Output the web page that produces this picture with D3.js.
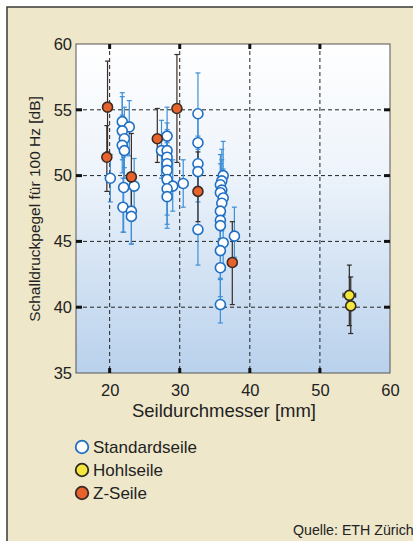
<!DOCTYPE html>
<html>
<head>
<meta charset="utf-8" />
<script src="https://cdn.jsdelivr.net/npm/d3@7"></script>
<style>
  body { margin: 0; background: #fff; }
  svg { display: block; font-family: "Liberation Sans", Arial, sans-serif; }
</style>
</head>
<body>
<script>
    // diameter d [mm], level L [dB], error range lo..hi [dB], dx = +/- diameter error
    var standardSeile = [
        {d: 20.1, L: 49.8, lo: 48.0, hi: 51.6, dx: 0.6},
        {d: 21.8, L: 54.1, lo: 51.8, hi: 56.3, dx: 0.6},
        {d: 22.8, L: 53.7, lo: 51.5, hi: 55.7, dx: 0.6},
        {d: 21.8, L: 53.4, lo: 51.2, hi: 56.0, dx: 0.6},
        {d: 22.1, L: 52.8, lo: 50.6, hi: 55.2, dx: 0.6},
        {d: 21.8, L: 52.3, lo: 50.2, hi: 54.6, dx: 0.6},
        {d: 22.1, L: 51.9, lo: 49.8, hi: 54.2, dx: 0.6},
        {d: 22.0, L: 49.1, lo: 45.7, hi: 51.4, dx: 0.6},
        {d: 23.5, L: 49.2, lo: 47.2, hi: 51.3, dx: 0.6},
        {d: 21.9, L: 47.6, lo: 45.7, hi: 49.8, dx: 0.6},
        {d: 23.1, L: 47.3, lo: 44.8, hi: 49.5, dx: 0.6},
        {d: 23.1, L: 46.9, lo: 44.8, hi: 49.0, dx: 0.6},
        {d: 28.2, L: 53.0, lo: 50.8, hi: 55.2, dx: 0.6},
        {d: 27.4, L: 51.9, lo: 49.8, hi: 54.2, dx: 0.6},
        {d: 28.2, L: 51.9, lo: 49.8, hi: 54.0, dx: 0.6},
        {d: 28.2, L: 51.4, lo: 49.3, hi: 53.5, dx: 0.6},
        {d: 28.2, L: 50.9, lo: 48.5, hi: 53.0, dx: 0.6},
        {d: 28.2, L: 50.4, lo: 48.2, hi: 52.5, dx: 0.6},
        {d: 28.2, L: 49.7, lo: 47.0, hi: 52.0, dx: 0.6},
        {d: 29.0, L: 49.2, lo: 47.3, hi: 51.2, dx: 0.6},
        {d: 30.5, L: 49.4, lo: 47.6, hi: 51.2, dx: 0.6},
        {d: 28.2, L: 49.0, lo: 46.3, hi: 51.5, dx: 0.6},
        {d: 28.2, L: 48.4, lo: 46.0, hi: 50.5, dx: 0.6},
        {d: 32.6, L: 54.7, lo: 52.0, hi: 57.8, dx: 0.6},
        {d: 32.6, L: 52.5, lo: 50.5, hi: 54.7, dx: 0.6},
        {d: 32.6, L: 50.9, lo: 48.8, hi: 53.0, dx: 0.6},
        {d: 32.6, L: 50.3, lo: 48.0, hi: 52.5, dx: 0.6},
        {d: 32.6, L: 45.9, lo: 43.2, hi: 48.5, dx: 0.6},
        {d: 36.2, L: 50.0, lo: 48.0, hi: 52.6, dx: 0.6},
        {d: 36.0, L: 49.6, lo: 47.5, hi: 52.0, dx: 0.6},
        {d: 35.8, L: 49.3, lo: 47.2, hi: 51.6, dx: 0.6},
        {d: 36.0, L: 48.9, lo: 46.8, hi: 51.2, dx: 0.6},
        {d: 35.8, L: 48.7, lo: 46.5, hi: 50.9, dx: 0.6},
        {d: 36.2, L: 48.3, lo: 46.2, hi: 50.5, dx: 0.6},
        {d: 36.0, L: 47.9, lo: 45.8, hi: 50.0, dx: 0.6},
        {d: 35.8, L: 47.3, lo: 45.2, hi: 49.5, dx: 0.6},
        {d: 35.8, L: 46.6, lo: 44.5, hi: 48.8, dx: 0.6},
        {d: 35.8, L: 46.2, lo: 44.0, hi: 48.4, dx: 0.6},
        {d: 37.8, L: 45.4, lo: 43.8, hi: 47.6, dx: 0.6},
        {d: 36.2, L: 44.9, lo: 42.8, hi: 47.0, dx: 0.6},
        {d: 35.8, L: 44.3, lo: 42.2, hi: 46.5, dx: 0.6},
        {d: 35.8, L: 43.0, lo: 40.8, hi: 45.2, dx: 0.6},
        {d: 35.8, L: 40.2, lo: 38.8, hi: 42.1, dx: 0.6}
    ];
    var hohlSeile = [
        {d: 54.2, L: 40.9, lo: 38.6, hi: 43.2, dx: 0.9},
        {d: 54.4, L: 40.1, lo: 38.0, hi: 42.3, dx: 0.6}
    ];
    var zSeile = [
        {d: 19.7, L: 55.2, lo: 51.8, hi: 58.7, dx: 0.6},
        {d: 19.6, L: 51.4, lo: 48.8, hi: 53.8, dx: 0.6},
        {d: 23.1, L: 49.9, lo: 46.6, hi: 53.2, dx: 0.6},
        {d: 26.8, L: 52.8, lo: 51.0, hi: 55.1, dx: 0.6},
        {d: 29.6, L: 55.1, lo: 51.0, hi: 59.2, dx: 0.6},
        {d: 32.6, L: 48.8, lo: 46.5, hi: 51.8, dx: 0.6},
        {d: 37.5, L: 43.4, lo: 40.2, hi: 46.5, dx: 0.6}
    ];
    var xTicks = [20, 30, 40, 50, 60];
    var yTicks = [35, 40, 45, 50, 55, 60];
    var legendNames = ["Standardseile", "Hohlseile", "Z-Seile"];

    var W = 413, H = 541;
    var plot = {left: 76, right: 390, top: 44, bottom: 373};

    var svg = d3.select("body").append("svg")
        .attr("width", W).attr("height", H);

    // page background / frame
    svg.append("rect").attr("x", 7).attr("y", 7).attr("width", W).attr("height", H)
        .attr("fill", "#eee7ca").attr("stroke", "#3b3a35").attr("stroke-width", 1.5);

    var defs = svg.append("defs");
    var grad = defs.append("linearGradient").attr("id", "bg")
        .attr("x1", 0).attr("y1", 0).attr("x2", 0).attr("y2", 1);
    grad.append("stop").attr("offset", "0%").attr("stop-color", "#ffffff");
    grad.append("stop").attr("offset", "38%").attr("stop-color", "#eef4fb");
    grad.append("stop").attr("offset", "100%").attr("stop-color", "#b9d1ec");

    var x = d3.scaleLinear().domain([15.2, 60]).range([plot.left, plot.right]);
    var y = d3.scaleLinear().domain([35, 60]).range([plot.bottom, plot.top]);

    svg.append("rect")
        .attr("x", plot.left).attr("y", plot.top)
        .attr("width", plot.right - plot.left).attr("height", plot.bottom - plot.top)
        .attr("fill", "url(#bg)");

    // dashed grid
    var grid = svg.append("g").attr("stroke", "#222").attr("stroke-dasharray", "4,3").attr("stroke-width", 1);
    grid.selectAll(".gx").data(xTicks.filter(function(t) { return t < 60; })).enter().append("line")
        .attr("x1", function(t) { return x(t); }).attr("x2", function(t) { return x(t); })
        .attr("y1", plot.top).attr("y2", plot.bottom);
    grid.selectAll(".gy").data(yTicks.filter(function(t) { return t > 35 && t < 60; })).enter().append("line")
        .attr("y1", function(t) { return y(t); }).attr("y2", function(t) { return y(t); })
        .attr("x1", plot.left).attr("x2", plot.right);

    // frame of plot
    svg.append("rect")
        .attr("x", plot.left).attr("y", plot.top)
        .attr("width", plot.right - plot.left).attr("height", plot.bottom - plot.top)
        .attr("fill", "none").attr("stroke", "#555").attr("stroke-width", 1);

    // thick tick marks on all four sides
    var tk = svg.append("g").attr("stroke", "#111").attr("stroke-width", 3);
    xTicks.filter(function(t) { return t < 60; }).forEach(function(t) {
        tk.append("line").attr("x1", x(t)).attr("x2", x(t)).attr("y1", plot.top).attr("y2", plot.top + 5);
        tk.append("line").attr("x1", x(t)).attr("x2", x(t)).attr("y1", plot.bottom).attr("y2", plot.bottom - 5);
    });
    yTicks.filter(function(t) { return t > 35 && t < 60; }).forEach(function(t) {
        tk.append("line").attr("y1", y(t)).attr("y2", y(t)).attr("x1", plot.left).attr("x2", plot.left + 6);
        tk.append("line").attr("y1", y(t)).attr("y2", y(t)).attr("x1", plot.right).attr("x2", plot.right - 6);
    });

    // axes (labels only)
    svg.append("g")
        .attr("transform", "translate(0," + plot.bottom + ")")
        .call(d3.axisBottom(x).tickValues(xTicks).tickSize(0).tickPadding(11));
    svg.append("g")
        .attr("transform", "translate(" + plot.left + ",0)")
        .call(d3.axisLeft(y).tickValues(yTicks).tickSize(0).tickPadding(4));
    svg.selectAll(".domain").remove();
    svg.selectAll(".tick text").attr("font-size", 16.5).attr("fill", "#222")
        .attr("font-family", "Liberation Sans, Arial, sans-serif");

    svg.append("text").attr("x", 224).attr("y", 417)
        .attr("text-anchor", "middle").attr("font-size", 18.5).attr("fill", "#222")
        .text("Seildurchmesser [mm]");
    svg.append("text")
        .attr("transform", "translate(40,209) rotate(-90)")
        .attr("text-anchor", "middle").attr("font-size", 15.5).attr("fill", "#222")
        .text("Schalldruckpegel für 100 Hz [dB]");

    // error bars
    function errorBars(data, color) {
        var g = svg.append("g").attr("stroke", color).attr("stroke-width", 1.2).attr("fill", "none");
        data.forEach(function(p) {
            var cx = x(p.d), cy = y(p.L);
            g.append("line").attr("x1", cx).attr("x2", cx).attr("y1", y(p.lo)).attr("y2", y(p.hi));
            g.append("line").attr("x1", cx - 2.5).attr("x2", cx + 2.5).attr("y1", y(p.lo)).attr("y2", y(p.lo));
            g.append("line").attr("x1", cx - 2.5).attr("x2", cx + 2.5).attr("y1", y(p.hi)).attr("y2", y(p.hi));
            g.append("line").attr("x1", x(p.d - p.dx)).attr("x2", x(p.d + p.dx)).attr("y1", cy).attr("y2", cy);
            g.append("line").attr("x1", x(p.d - p.dx)).attr("x2", x(p.d - p.dx)).attr("y1", cy - 2.5).attr("y2", cy + 2.5);
            g.append("line").attr("x1", x(p.d + p.dx)).attr("x2", x(p.d + p.dx)).attr("y1", cy - 2.5).attr("y2", cy + 2.5);
        });
    }
    errorBars(standardSeile, "#3f8fd6");
    errorBars(hohlSeile, "#2f2a25");
    errorBars(zSeile, "#3a2c24");

    var styles = [
        {fill: "#ffffff", stroke: "#1f6fc4"},
        {fill: "#f4e63c", stroke: "#2f2a25"},
        {fill: "#e8622c", stroke: "#3a2c24"}
    ];

    function markers(data, st) {
        svg.append("g").selectAll("circle").data(data).enter().append("circle")
            .attr("cx", function(p) { return x(p.d); })
            .attr("cy", function(p) { return y(p.L); })
            .attr("r", 5)
            .attr("fill", st.fill).attr("stroke", st.stroke).attr("stroke-width", 1.6);
    }
    markers(standardSeile, styles[0]);
    markers(hohlSeile, styles[1]);
    markers(zSeile, styles[2]);

    // legend
    var leg = svg.append("g");
    legendNames.forEach(function(name, i) {
        var ly = 447 + i * 23;
        leg.append("circle").attr("cx", 82).attr("cy", ly).attr("r", 6.3)
            .attr("fill", styles[i].fill).attr("stroke", styles[i].stroke).attr("stroke-width", 1.8);
        leg.append("text").attr("x", 93).attr("y", ly + 6).attr("font-size", 17).attr("fill", "#222").text(name);
    });

    svg.append("text").attr("x", 293).attr("y", 535).attr("font-size", 14.2).attr("fill", "#222")
        .text("Quelle: ETH Zürich");
</script>
</body>
</html>
